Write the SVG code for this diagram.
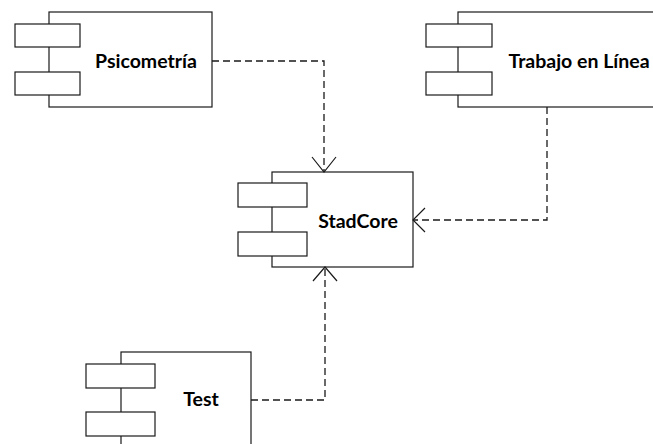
<svg xmlns="http://www.w3.org/2000/svg" width="653" height="444" viewBox="0 0 653 444">
<defs>
<style>
.body{fill:#fff;stroke:#1a1a1a;stroke-width:1.2}
.port{fill:#fff;stroke:#1a1a1a;stroke-width:1.2}
.lbl{font-family:Lato,"Liberation Sans",sans-serif;font-weight:bold;font-size:19.5px;fill:#000;text-anchor:middle;dominant-baseline:central}
.dep{fill:none;stroke:#1a1a1a;stroke-width:1.3;stroke-dasharray:7,4}
.head{fill:none;stroke:#1a1a1a;stroke-width:1.2}
</style>
</defs>
<rect width="653" height="444" fill="#fff"/>
<g id="psicometria">
<rect class="body" x="49" y="12" width="163" height="95"/>
<rect class="port" x="15" y="24" width="65" height="23"/>
<rect class="port" x="15" y="72" width="65" height="23"/>
<text class="lbl" x="146" y="60">Psicometría</text>
</g>
<g id="trabajo">
<rect class="body" x="458" y="12" width="210" height="95"/>
<rect class="port" x="426" y="24" width="66" height="23"/>
<rect class="port" x="426" y="72" width="66" height="23"/>
<text class="lbl" x="579" y="60">Trabajo en Línea</text>
</g>
<g id="stadcore">
<rect class="body" x="272" y="172" width="141" height="95"/>
<rect class="port" x="238" y="183" width="69" height="24"/>
<rect class="port" x="238" y="232" width="69" height="24"/>
<text class="lbl" x="358" y="220">StadCore</text>
</g>
<g id="test">
<rect class="body" x="121" y="352" width="130" height="110"/>
<rect class="port" x="86" y="364" width="69" height="24"/>
<rect class="port" x="86" y="412" width="69" height="24"/>
<text class="lbl" x="201" y="398">Test</text>
</g>
<g id="connectors">
<path class="dep" d="M212,61 H324 V172"/>
<path class="head" d="M312,157 L324,172 L336,157"/>
<path class="dep" d="M547,107 V220 H413"/>
<path class="head" d="M425,208 L413,220 L425,232"/>
<path class="dep" d="M251,400 H325 V267"/>
<path class="head" d="M313,281 L325,267 L337,281"/>
</g>
</svg>
